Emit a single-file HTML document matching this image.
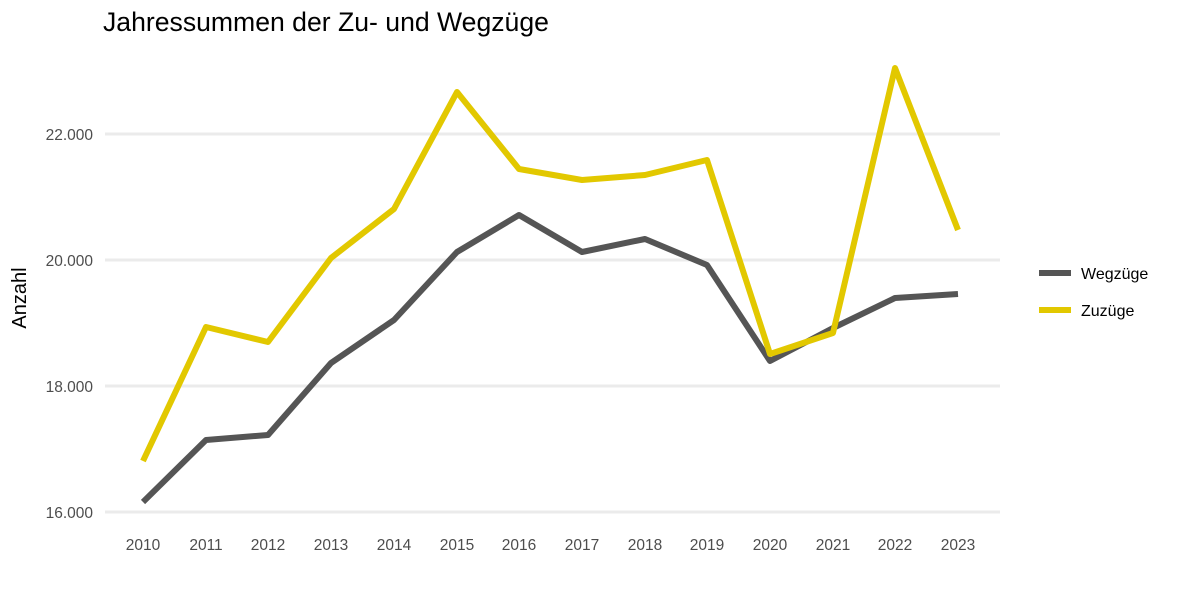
<!DOCTYPE html>
<html><head><meta charset="utf-8"><style>
body{margin:0;background:#fff;}
svg text{font-family:"Liberation Sans",sans-serif;}
</style></head><body>
<svg width="1180" height="590" xmlns="http://www.w3.org/2000/svg">
<rect width="1180" height="590" fill="#fff"/>
<text x="103" y="31" font-size="26.6" fill="#000">Jahressummen der Zu- und Wegzüge</text>
<g stroke="#ebebeb" stroke-width="3">
<line x1="105" x2="1000" y1="134" y2="134"/>
<line x1="105" x2="1000" y1="260" y2="260"/>
<line x1="105" x2="1000" y1="386" y2="386"/>
<line x1="105" x2="1000" y1="512" y2="512"/>
</g>
<g font-size="15.5" fill="#4d4d4d" text-anchor="end">
<text x="93" y="140">22.000</text>
<text x="93" y="266">20.000</text>
<text x="93" y="392">18.000</text>
<text x="93" y="518">16.000</text>
</g>
<g font-size="15.5" fill="#4d4d4d" text-anchor="middle">
<text x="143" y="550">2010</text><text x="206" y="550">2011</text><text x="268" y="550">2012</text><text x="331" y="550">2013</text><text x="394" y="550">2014</text><text x="457" y="550">2015</text><text x="519" y="550">2016</text><text x="582" y="550">2017</text><text x="645" y="550">2018</text><text x="707" y="550">2019</text><text x="770" y="550">2020</text><text x="833" y="550">2021</text><text x="895" y="550">2022</text><text x="958" y="550">2023</text>
</g>
<text transform="translate(26,298) rotate(-90)" font-size="20" fill="#000" text-anchor="middle">Anzahl</text>
<polyline fill="none" stroke="#555555" stroke-width="6" stroke-linejoin="round" points="143,502 206,440 268,435 331,363 394,320 457,252 519,215 582,252 645,239 707,265 770,361 833,328 895,298 958,294"/>
<polyline fill="none" stroke="#e2c800" stroke-width="6" stroke-linejoin="round" points="143,461 206,327 268,342 331,258 394,209 457,92 519,169 582,180 645,175 707,160 770,354 833,333 895,68 958,230"/>
<line x1="1039" x2="1071" y1="273" y2="273" stroke="#555555" stroke-width="6"/>
<line x1="1039" x2="1071" y1="310" y2="310" stroke="#e2c800" stroke-width="6"/>
<text x="1081" y="279" font-size="16" fill="#000">Wegzüge</text>
<text x="1081" y="316" font-size="16" fill="#000">Zuzüge</text>
</svg>
</body></html>
